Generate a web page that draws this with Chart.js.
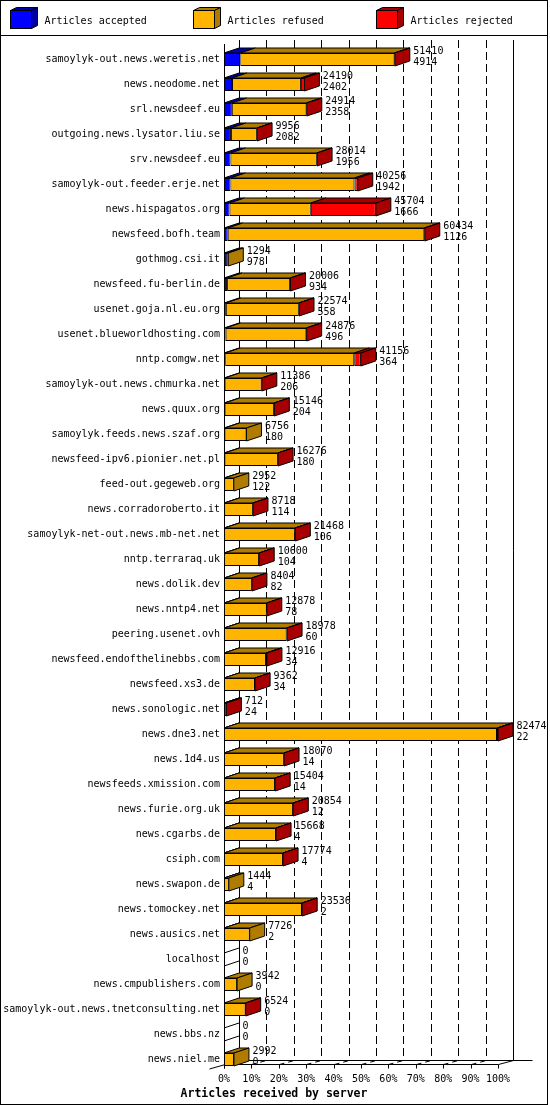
<!DOCTYPE html>
<html>
<head>
<meta charset="utf-8">
<title>Articles received by server</title>
<script src="https://cdn.jsdelivr.net/npm/chart.js@4.4.0/dist/chart.umd.min.js"></script>
<style>
  html, body { margin: 0; padding: 0; background: #fff; }
  canvas { display: block; }
</style>
</head>
<body>
<canvas id="serverChart" width="550" height="1105"></canvas>
<script>
// servers, top to bottom
const servers = [
  "samoylyk-out.news.weretis.net", "news.neodome.net", "srl.newsdeef.eu",
  "outgoing.news.lysator.liu.se", "srv.newsdeef.eu", "samoylyk-out.feeder.erje.net",
  "news.hispagatos.org", "newsfeed.bofh.team", "gothmog.csi.it", "newsfeed.fu-berlin.de",
  "usenet.goja.nl.eu.org", "usenet.blueworldhosting.com", "nntp.comgw.net",
  "samoylyk-out.news.chmurka.net", "news.quux.org", "samoylyk.feeds.news.szaf.org",
  "newsfeed-ipv6.pionier.net.pl", "feed-out.gegeweb.org", "news.corradoroberto.it",
  "samoylyk-net-out.news.mb-net.net", "nntp.terraraq.uk", "news.dolik.dev", "news.nntp4.net",
  "peering.usenet.ovh", "newsfeed.endofthelinebbs.com", "newsfeed.xs3.de", "news.sonologic.net",
  "news.dne3.net", "news.1d4.us", "newsfeeds.xmission.com", "news.furie.org.uk", "news.cgarbs.de",
  "csiph.com", "news.swapon.de", "news.tomockey.net", "news.ausics.net", "localhost",
  "news.cmpublishers.com", "samoylyk-out.news.tnetconsulting.net", "news.bbs.nz", "news.niel.me"
];

// articles offered (upper number next to each bar)
const offered = [51410, 24190, 24914, 9956, 28014, 40256, 45704, 60434, 1294, 20006,
  22574, 24876, 41156, 11386, 15146, 6756, 16276, 2952, 8718, 21468,
  10600, 8404, 12878, 18978, 12916, 9362, 712, 82474, 18070, 15404,
  20854, 15668, 17774, 1444, 23536, 7726, 0, 3942, 6524, 0, 2992];

// articles accepted (lower number)
const accepted = [4914, 2402, 2358, 2082, 1956, 1942, 1666, 1126, 978, 934,
  558, 496, 364, 206, 204, 180, 180, 122, 114, 106,
  104, 82, 78, 60, 34, 34, 24, 22, 14, 14,
  12, 4, 4, 4, 2, 2, 0, 0, 0, 0, 0];

// refused / rejected, estimated from the bar segments
const refused = [46396, 20738, 22456, 7794, 25958, 37314, 24468, 59158, 316, 18972,
  21916, 24280, 38832, 11120, 14882, 6576, 16036, 2830, 8564, 21302,
  10456, 8282, 12760, 18768, 12582, 9288, 668, 82152, 17996, 15350,
  20782, 15624, 17730, 1440, 23474, 7724, 0, 3942, 6484, 0, 2992];

const rejected = [100, 1050, 100, 80, 100, 1000, 19570, 150, 0, 100,
  100, 100, 1960, 60, 60, 0, 60, 0, 40, 60,
  40, 40, 40, 150, 300, 40, 20, 300, 60, 40,
  60, 40, 40, 0, 60, 0, 0, 0, 40, 0, 0];

const xTicks = [0, 10, 20, 30, 40, 50, 60, 70, 80, 90, 100];

const faceColors = ["#0000ff", "#ffb400", "#ff0000"];
const shadeColors = ["#0000a8", "#b07c00", "#a80000"];

const DEPTH_X = 15;
const DEPTH_Y = 5;
const WALL_Y = 4;
const FONT = "'DejaVu Sans Mono', monospace";

const maxOffered = Math.max(...offered);
const toPct = arr => arr.map(v => v / maxOffered * 100);

const crisp = v => Math.round(v) + 0.5;

function face(ctx, pts, fill) {
    ctx.beginPath();
    ctx.moveTo(pts[0][0], pts[0][1]);
    for (let k = 1; k < pts.length; k++) ctx.lineTo(pts[k][0], pts[k][1]);
    ctx.closePath();
    if (fill) {
        ctx.fillStyle = fill;
        ctx.fill();
    }
    ctx.stroke();
}

// walls, grid and floor behind the bars, 3d faces and labels on top
const depthPlugin = {
    id: "depth3d",
    beforeDatasetsDraw(chart) {
        const { ctx, chartArea: area, scales: { x } } = chart;
        const backTop = area.top - 7;
        const frontTop = area.top - 3;
        const floorFront = area.bottom - 7.5;
        const floorBack = floorFront - WALL_Y;
        const first = xTicks[0], last = xTicks[xTicks.length - 1];

        ctx.save();
        ctx.strokeStyle = "#000";
        ctx.lineWidth = 1;

        xTicks.forEach(v => {
            const fx = crisp(x.getPixelForValue(v));
            const bx = fx + DEPTH_X;
            const edge = v === first || v === last;
            // back wall line
            ctx.setLineDash(edge ? [] : [8, 4]);
            ctx.beginPath();
            ctx.moveTo(bx, backTop);
            ctx.lineTo(bx, floorBack);
            ctx.stroke();
            // floor line from front tick to back wall
            if (v !== first) {
                ctx.setLineDash(edge ? [] : [5, 4]);
                ctx.beginPath();
                ctx.moveTo(fx, floorFront);
                ctx.lineTo(bx, floorBack);
                ctx.stroke();
            }
            // tick mark
            ctx.setLineDash([]);
            ctx.beginPath();
            ctx.moveTo(fx, floorFront);
            ctx.lineTo(fx, floorFront + 4);
            ctx.stroke();
        });
        ctx.setLineDash([]);

        const f0 = crisp(x.getPixelForValue(first));
        const f1 = crisp(x.getPixelForValue(last));
        // front edge of the left wall
        ctx.beginPath();
        ctx.moveTo(f0, frontTop);
        ctx.lineTo(f0, floorFront + 4);
        ctx.stroke();
        // floor edges
        ctx.beginPath();
        ctx.moveTo(f0, floorFront);
        ctx.lineTo(f1, floorFront);
        ctx.moveTo(f0 + DEPTH_X, floorBack);
        ctx.lineTo(f1 + DEPTH_X + 19, floorBack);
        ctx.moveTo(f0 - DEPTH_X, floorFront + WALL_Y + 0.5);
        ctx.lineTo(f0 + DEPTH_X, floorBack);
        ctx.stroke();
        ctx.restore();
    },
    afterDatasetsDraw(chart) {
        const { ctx, scales: { x } } = chart;
        const metas = chart.data.datasets.map((d, k) => chart.getDatasetMeta(k));
        const zero = x.getPixelForValue(0);

        ctx.save();
        ctx.strokeStyle = "#000";
        ctx.lineWidth = 1;
        ctx.lineJoin = "miter";

        servers.forEach((name, i) => {
            const segs = [];
            metas.forEach((meta, k) => {
                const el = meta.data[i];
                const p = el.getProps(["x", "y", "base", "height"], true);
                if (chart.data.datasets[k].data[i] > 0) segs.push({ k, ...p });
            });
            const ref = metas[0].data[i].getProps(["y", "height"], true);
            const top = ref.y - ref.height / 2;
            const bottom = ref.y + ref.height / 2;
            let endX = zero;

            if (!segs.length) {
                ctx.beginPath();
                ctx.moveTo(zero, top);
                ctx.lineTo(zero + DEPTH_X, top - DEPTH_Y);
                ctx.moveTo(zero, bottom);
                ctx.lineTo(zero + DEPTH_X, bottom - DEPTH_Y);
                ctx.stroke();
            } else {
                segs.forEach(s => {
                    const x0 = Math.min(s.base, s.x), x1 = Math.max(s.base, s.x);
                    face(ctx, [[x0, top], [x0 + DEPTH_X, top - DEPTH_Y],
                        [x1 + DEPTH_X, top - DEPTH_Y], [x1, top]], shadeColors[s.k]);
                });
                const lastSeg = segs[segs.length - 1];
                endX = Math.max(lastSeg.base, lastSeg.x);
                face(ctx, [[endX, top], [endX + DEPTH_X, top - DEPTH_Y],
                    [endX + DEPTH_X, bottom - DEPTH_Y], [endX, bottom]], shadeColors[lastSeg.k]);
            }

            ctx.fillStyle = "#000";
            ctx.font = "10px " + FONT;
            ctx.textAlign = "left";
            ctx.textBaseline = "alphabetic";
            const lx = endX + DEPTH_X + 3.5;
            ctx.fillText(String(offered[i]), lx, ref.y - 5.5);
            ctx.fillText(String(accepted[i]), lx, ref.y + 5.5);
        });
        ctx.restore();
    },
    afterDraw(chart) {
        const { ctx } = chart;
        ctx.save();
        ctx.strokeStyle = "#000";
        ctx.lineWidth = 1;

        // legend with 3d boxes
        chart.data.datasets.forEach((ds, k) => {
            const bx = 10.5 + k * 183;
            const by = 10.5;
            ctx.fillStyle = faceColors[k];
            ctx.fillRect(bx, by, 21, 18);
            ctx.strokeRect(bx, by, 21, 18);
            face(ctx, [[bx, by], [bx + 6, by - 3], [bx + 27, by - 3], [bx + 21, by]], shadeColors[k]);
            face(ctx, [[bx + 21, by], [bx + 27, by - 3], [bx + 27, by + 15], [bx + 21, by + 18]], shadeColors[k]);
            ctx.fillStyle = "#000";
            ctx.font = "10px " + FONT;
            ctx.textAlign = "left";
            ctx.textBaseline = "alphabetic";
            ctx.fillText(ds.label, bx + 34, 24);
        });

        // axis title
        ctx.font = "bold 11.5px " + FONT;
        ctx.textAlign = "center";
        ctx.fillText("Articles received by server", 274, 1096.5);

        // frame and legend separator
        ctx.strokeRect(0.5, 0.5, 547, 1104);
        ctx.beginPath();
        ctx.moveTo(0, 35.5);
        ctx.lineTo(548, 35.5);
        ctx.stroke();
        ctx.restore();
    }
};

Chart.defaults.font.family = FONT;
Chart.defaults.font.size = 10;
Chart.defaults.color = "#000";

const ctx = document.getElementById("serverChart").getContext("2d");
new Chart(ctx, {
    type: "bar",
    data: {
        labels: servers,
        datasets: [
            { label: "Articles accepted", data: toPct(accepted), backgroundColor: faceColors[0] },
            { label: "Articles refused", data: toPct(refused), backgroundColor: faceColors[1] },
            { label: "Articles rejected", data: toPct(rejected), backgroundColor: faceColors[2] }
        ]
    },
    options: {
        indexAxis: "y",
        responsive: false,
        animation: false,
        devicePixelRatio: 1,
        layout: { padding: { top: 47, right: 52, bottom: 0, left: 0 } },
        datasets: {
            bar: {
                barThickness: 13,
                borderColor: "#000",
                borderWidth: 1,
                borderSkipped: false,
                inflateAmount: 0
            }
        },
        plugins: {
            legend: { display: false },
            tooltip: { enabled: false }
        },
        scales: {
            x: {
                stacked: true,
                min: 0,
                max: 100,
                grid: { display: false, drawTicks: false },
                border: { display: false },
                ticks: {
                    stepSize: 10,
                    autoSkip: false,
                    maxRotation: 0,
                    padding: 1,
                    callback: v => v + "%"
                },
                afterFit: scale => { scale.height = 33; }
            },
            y: {
                stacked: true,
                grid: { display: false, drawTicks: false },
                border: { display: false },
                ticks: { autoSkip: false, padding: 4 },
                afterFit: scale => { scale.width = 224; }
            }
        }
    },
    plugins: [depthPlugin]
});
</script>
</body>
</html>
